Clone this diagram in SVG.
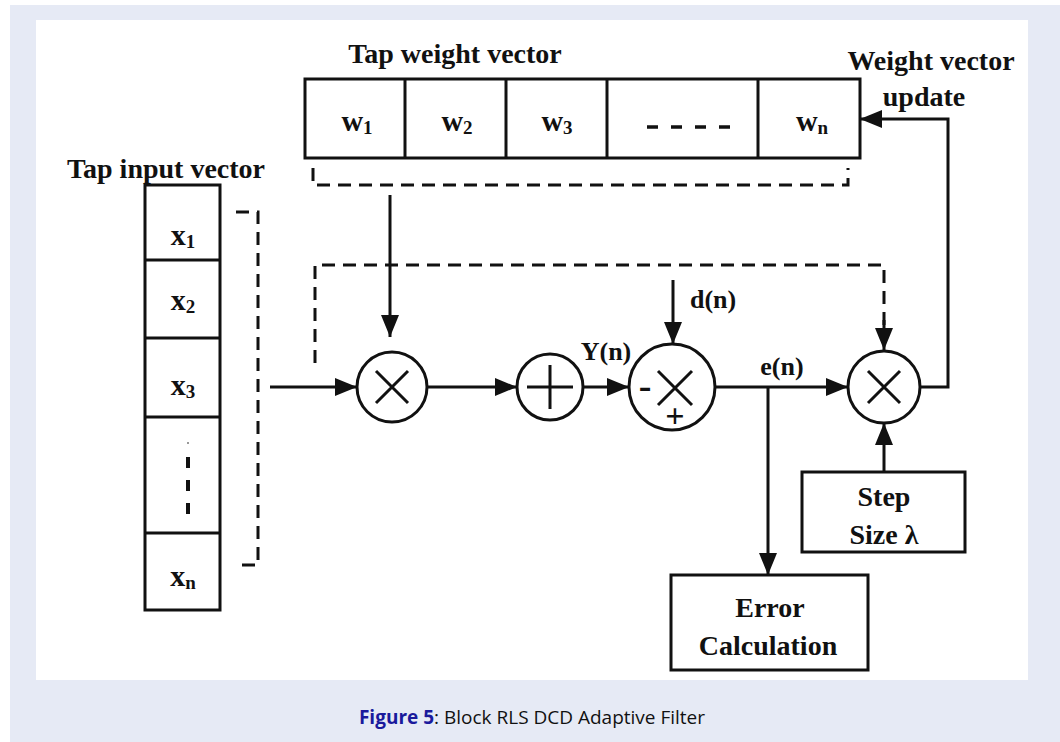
<svg xmlns="http://www.w3.org/2000/svg" width="1060" height="742" viewBox="0 0 1060 742">
<style>
.t{font-family:"Liberation Serif","Times New Roman",serif;font-weight:bold;fill:#111;}
.lb{font-size:28px;text-anchor:middle;}
.cell{font-size:30px;text-anchor:middle;}
.sub{font-size:19px;}
.box{fill:#fff;stroke:#111;stroke-width:3;}
.ln{fill:none;stroke:#111;stroke-width:3;}
.dash{fill:none;stroke:#111;stroke-width:3;stroke-dasharray:13 8;}
.cap{font-family:"Open Sans","Noto Sans",sans-serif;font-size:19px;fill:#111;}
</style>
<defs>
<marker id="ah" markerUnits="userSpaceOnUse" markerWidth="24" markerHeight="20" refX="22" refY="9" orient="auto">
<path d="M0,0 L22,9 L0,18 Z" fill="#111"/>
</marker>
</defs>
<rect x="10" y="5" width="1050" height="737" fill="#e6eaf5"/>
<rect x="36" y="20" width="992" height="660" fill="#fff"/>

<g id="tap-weight-vector">
<text class="t lb" x="455" y="63">Tap weight vector</text>
<rect class="box" x="305" y="79" width="555" height="79"/>
<line class="ln" x1="405" y1="79" x2="405" y2="158"/>
<line class="ln" x1="506" y1="79" x2="506" y2="158"/>
<line class="ln" x1="607" y1="79" x2="607" y2="158"/>
<line class="ln" x1="758" y1="79" x2="758" y2="158"/>
<text class="t cell" x="357" y="131">w<tspan class="sub" dy="3">1</tspan></text>
<text class="t cell" x="457" y="131">w<tspan class="sub" dy="3">2</tspan></text>
<text class="t cell" x="557" y="131">w<tspan class="sub" dy="3">3</tspan></text>
<line x1="647" y1="127" x2="731" y2="127" stroke="#111" stroke-width="3.5" stroke-dasharray="11 13"/>
<text class="t cell" x="812" y="131">w<tspan class="sub" dy="3">n</tspan></text>
<path class="dash" d="M313,168 V185 H848 V168"/>
</g>

<g id="tap-input-vector">
<text class="t lb" x="166" y="178">Tap input vector</text>
<rect class="box" x="145" y="185" width="75" height="425"/>
<line class="ln" x1="145" y1="260" x2="220" y2="260"/>
<line class="ln" x1="145" y1="338" x2="220" y2="338"/>
<line class="ln" x1="145" y1="417" x2="220" y2="417"/>
<line class="ln" x1="145" y1="533" x2="220" y2="533"/>
<text class="t cell" x="183" y="245">x<tspan class="sub" dy="3">1</tspan></text>
<text class="t cell" x="183" y="310">x<tspan class="sub" dy="3">2</tspan></text>
<text class="t cell" x="183" y="395">x<tspan class="sub" dy="3">3</tspan></text>
<line x1="188" y1="442" x2="188" y2="444" stroke="#999" stroke-width="2"/>
<line x1="188" y1="457" x2="188" y2="516" stroke="#111" stroke-width="4" stroke-dasharray="11 12"/>
<text class="t cell" x="183" y="586">x<tspan class="sub" dy="3">n</tspan></text>
<path class="dash" d="M236,212 H258 V565 H240"/>
</g>

<g id="mult1">
<circle class="box" cx="392" cy="387" r="35"/>
<path class="ln" d="M376,371 L408,403 M376,403 L408,371"/>
</g>

<g id="adder">
<circle class="box" cx="550" cy="387" r="33"/>
<path class="ln" d="M527,387 H573 M550,365 V409"/>
</g>

<g id="error-junction">
<circle class="box" cx="672" cy="387" r="43"/>
<path class="ln" d="M658,371 L692,405 M658,405 L692,371"/>
<text class="t" x="645" y="398" font-size="38" text-anchor="middle">-</text>
<text class="t" x="675" y="427" font-size="34" text-anchor="middle">+</text>
</g>

<g id="mult2">
<circle class="box" cx="884" cy="387" r="36"/>
<path class="ln" d="M868,371 L900,403 M868,403 L900,371"/>
</g>

<g id="step-size">
<rect class="box" x="802" y="472" width="163" height="80"/>
<text class="t lb" x="884" y="506">Step</text>
<text class="t lb" x="884" y="544">Size λ</text>
</g>

<g id="error-calculation">
<rect class="box" x="671" y="575" width="197" height="95"/>
<text class="t lb" x="770" y="617">Error</text>
<text class="t lb" x="768" y="655">Calculation</text>
</g>

<g id="weight-update-label">
<text class="t lb" x="931" y="70">Weight vector</text>
<text class="t lb" x="924" y="106">update</text>
</g>

<g id="connectors">
<path class="dash" d="M315,363 V265 H884 V326"/>
<path class="ln" d="M884,320 V350" marker-end="url(#ah)"/>
<path class="ln" d="M390,195 V337" marker-end="url(#ah)"/>
<path class="ln" d="M270,387 H357" marker-end="url(#ah)"/>
<path class="ln" d="M427,387 H517" marker-end="url(#ah)"/>
<path class="ln" d="M583,387 H629" marker-end="url(#ah)"/>
<path class="ln" d="M673,280 V344" marker-end="url(#ah)"/>
<path class="ln" d="M715,387 H848" marker-end="url(#ah)"/>
<path class="ln" d="M768,387 V575" marker-end="url(#ah)"/>
<path class="ln" d="M884,472 V423" marker-end="url(#ah)"/>
<path class="ln" d="M920,387 H948 V119 H860" marker-end="url(#ah)"/>
<text class="t" x="606" y="360" font-size="26" text-anchor="middle">Y(n)</text>
<text class="t" x="690" y="308" font-size="26">d(n)</text>
<text class="t" x="782" y="375" font-size="26" text-anchor="middle">e(n)</text>
</g>

<text class="cap" x="532" y="724" text-anchor="middle"><tspan font-weight="bold" fill="#1a1a9c">Figure 5</tspan>: Block RLS DCD Adaptive Filter</text>
</svg>
